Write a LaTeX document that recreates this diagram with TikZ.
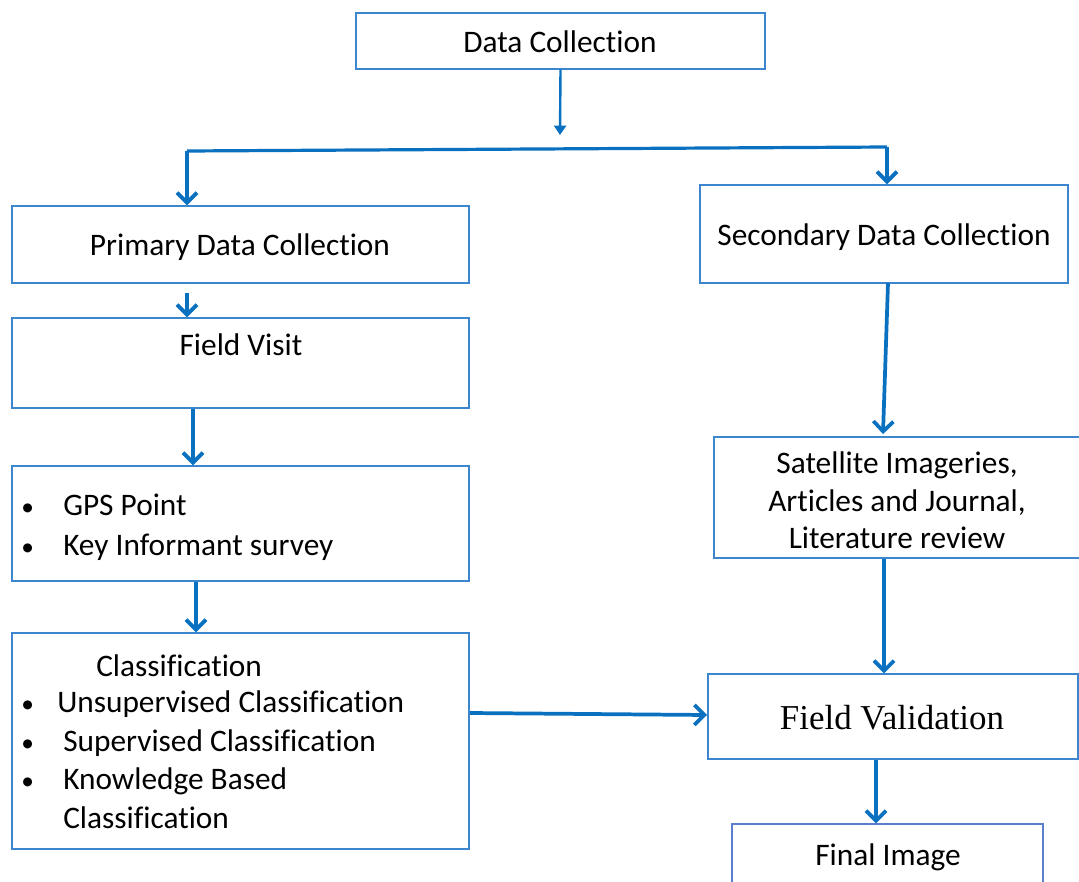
\documentclass[tikz,border=0pt]{standalone}
\usepackage{fontspec}
\setmainfont{Carlito}[Ligatures=NoCommon]
\newfontfamily\tnr{Liberation Serif}
\usetikzlibrary{arrows.meta,fit}
\definecolor{boxblue}{HTML}{3B86CC}
\definecolor{arrblue}{HTML}{0A70C0}
\definecolor{finalblue}{HTML}{5B7FCC}
\begin{document}
\begin{tikzpicture}[x=0.75pt,y=-0.75pt,
  box/.style={draw=boxblue,line width=1.1pt,inner sep=0pt,fill=none},
  txt/.style={inner sep=0pt,text height=0.644em,text depth=0pt,yshift=-4.3pt,font=\fontsize{23.5}{28}\selectfont},
  ltxt/.style={txt,anchor=west},
  bul/.style={txt,anchor=west,font=\fontsize{19}{24}\selectfont},
  arr/.style={draw=arrblue,line width=2.8pt,-{Straight Barb[length=7.5pt,width=15pt]}},
  plainline/.style={draw=arrblue,line width=2.4pt},
  thinarr/.style={draw=arrblue,line width=1.8pt,-{Triangle[length=7pt,width=9pt]}}]
\useasboundingbox (0,0) rectangle (1079,882);
\clip (0,0) rectangle (1079,882);

% boxes
\node[box, fit={(356,13) (765,69)}] (dc) {};
\node[txt] (dct) at (560,42) {Data Collection};

\node[box, fit={(12,206) (469,283)}] (pdc) {};
\node[txt] (pdct) at (240,245) {Primary Data Collection};

\node[box, fit={(700,185) (1068,283)}] (sdc) {};
\node[txt] (sdct) at (884,235) {Secondary Data Collection};

\node[box, fit={(12,318) (469,408)}] (fv) {};
\node[txt] (fvt) at (241,345) {Field Visit};

\node[box, fit={(12,466) (469,581)}] (gps) {};
\node[bul] (gb1) at (21,505) {•};
\node[bul] (gb2) at (21,545) {•};
\node[ltxt] (gt1) at (63,505) {GPS Point};
\node[ltxt] (gt2) at (63,545) {Key Informant survey};

\node[box, fit={(12,633) (469,849)}] (cls) {};
\node[ltxt] (ct0) at (96,666) {Classification};
\node[bul] (cb1) at (21,702) {•};
\node[bul] (cb2) at (21,741) {•};
\node[bul] (cb3) at (21,779) {•};
\node[ltxt] (ct1) at (57,702) {Unsupervised Classification};
\node[ltxt] (ct2) at (63,741) {Supervised Classification};
\node[ltxt] (ct3) at (63,779) {Knowledge Based};
\node[ltxt] (ct4) at (63,818) {Classification};

\node[box, fit={(714,437) (1082,558)}] (sat) {};
\node[txt] (st1) at (897,463) {Satellite Imageries,};
\node[txt] (st2) at (897,501) {Articles and Journal,};
\node[txt] (st3) at (897,538) {Literature review};

\node[box, fit={(708,674) (1078,759)}] (fval) {};
\node[inner sep=0pt,text height=0.662em,text depth=0pt,yshift=-6pt,font=\tnr\fontsize{26.2}{30}\selectfont] (fvalt) at (892,717) {Field Validation};

\node[box, draw=finalblue, fit={(732,824) (1043,900)}] (fin) {};
\node[txt] (fint) at (888,855) {Final Image};

% connectors
\coordinate (hm) at (560,135);
\draw[thinarr] (dc.south) -- (hm);
\coordinate (hl) at (187,151);
\coordinate (hr) at (887,147);
\draw[plainline] (hl) -- (hr);
\draw[arr] (hl) -- (hl |- pdc.north);
\draw[arr] (hr) -- (hr |- sdc.north);

\coordinate (p1) at (187,293);
\draw[arr] (p1) -- (p1 |- fv.north);
\coordinate (a3) at (193,0);
\draw[arr] (a3 |- fv.south) -- (a3 |- gps.north);
\coordinate (a4) at (196,0);
\draw[arr] (a4 |- gps.south) -- (a4 |- cls.north);
\coordinate (h1) at (470,713);
\coordinate (h2) at (707,715);
\draw[arr] (h1) -- (h2);
\coordinate (s1) at (888,283);
\coordinate (s2) at (883,434);
\draw[arr] (s1) -- (s2);
\coordinate (a6) at (884,0);
\draw[arr] (a6 |- sat.south) -- (a6 |- fval.north);
\coordinate (a7) at (876,0);
\draw[arr] (a7 |- fval.south) -- (a7 |- fin.north);
\end{tikzpicture}
\end{document}
